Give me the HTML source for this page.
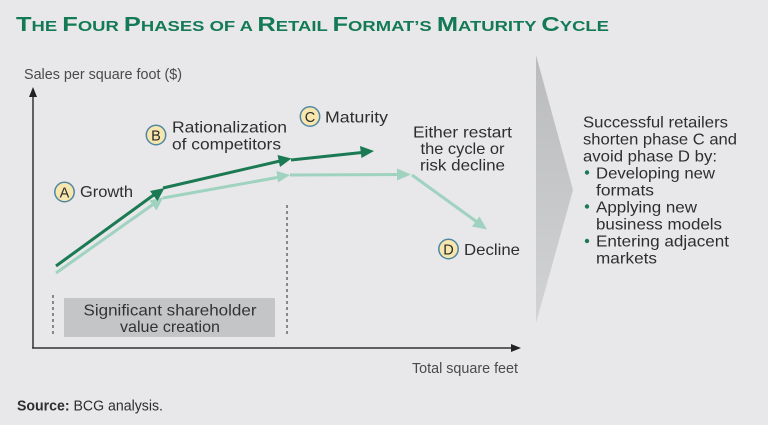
<!DOCTYPE html>
<html><head><meta charset="utf-8"><style>
html,body{margin:0;padding:0;background:#e8e8ea;}
svg{display:block;}
text{font-family:"Liberation Sans",sans-serif;}
</style></head><body>
<svg width="768" height="425" viewBox="0 0 768 425" xmlns="http://www.w3.org/2000/svg">
<defs>
<linearGradient id="chev" x1="0" y1="0" x2="0" y2="1">
<stop offset="0" stop-color="#babbbd"/><stop offset="1" stop-color="#d2d3d5"/>
</linearGradient>
</defs>
<rect width="768" height="425" fill="#e8e8ea"/>
<!-- title -->
<text x="16" y="31" fill="#137a55" font-weight="bold" textLength="593" lengthAdjust="spacingAndGlyphs"><tspan font-size="20">T</tspan><tspan font-size="14.5">HE </tspan><tspan font-size="20">F</tspan><tspan font-size="14.5">OUR </tspan><tspan font-size="20">P</tspan><tspan font-size="14.5">HASES OF A </tspan><tspan font-size="20">R</tspan><tspan font-size="14.5">ETAIL </tspan><tspan font-size="20">F</tspan><tspan font-size="14.5">ORMAT’S </tspan><tspan font-size="20">M</tspan><tspan font-size="14.5">ATURITY </tspan><tspan font-size="20">C</tspan><tspan font-size="14.5">YCLE</tspan></text>
<!-- axes -->
<text x="24" y="79" font-size="14.5" fill="#4a4a4a" textLength="158" lengthAdjust="spacingAndGlyphs">Sales per square foot ($)</text>
<line x1="33" y1="348" x2="33" y2="95" stroke="#333" stroke-width="1.5"/>
<polygon points="33,87 29,97 37,97" fill="#222"/>
<line x1="32" y1="348" x2="512" y2="348" stroke="#333" stroke-width="1.5"/>
<polygon points="521,348 511,344 511,352" fill="#222"/>
<text x="412" y="373" font-size="14.5" fill="#4a4a4a" textLength="106" lengthAdjust="spacingAndGlyphs">Total square feet</text>
<!-- dashed lines -->
<line x1="53" y1="295" x2="53" y2="336" stroke="#555" stroke-width="1.3" stroke-dasharray="3,3"/>
<line x1="287" y1="205" x2="287" y2="336" stroke="#555" stroke-width="1.3" stroke-dasharray="3,3"/>
<!-- gray box -->
<rect x="64" y="298" width="211" height="39" fill="#c4c5c7"/>
<text x="170" y="315.5" font-size="16" fill="#333" text-anchor="middle" textLength="173" lengthAdjust="spacingAndGlyphs">Significant shareholder</text>
<text x="170" y="332" font-size="16" fill="#333" text-anchor="middle" textLength="100" lengthAdjust="spacingAndGlyphs">value creation</text>
<!-- light green line -->
<g stroke="#9fd2bf" stroke-width="3" fill="none">
<line x1="56" y1="273" x2="155" y2="203"/>
<line x1="163" y1="198" x2="280" y2="177"/>
<line x1="290" y1="175" x2="399" y2="174.5"/>
<line x1="412" y1="175" x2="477" y2="222"/>
</g>
<g fill="#9fd2bf">
<polygon points="163.5,197.3 149.5,200.5 156.5,210.5"/>
<polygon points="290,175 276.5,171 278,182.5"/>
<polygon points="411,174.5 397,168.5 397,180.5"/>
<polygon points="487,229.5 479.5,216.5 472,226.5"/>
</g>
<!-- dark green line -->
<g stroke="#1b7a53" stroke-width="3" fill="none">
<line x1="56" y1="266" x2="155" y2="194"/>
<line x1="163" y1="188" x2="280" y2="161"/>
<line x1="291" y1="160" x2="362" y2="152.5"/>
</g>
<g fill="#1b7a53">
<polygon points="164.5,188 150,191 157.5,201"/>
<polygon points="291.5,158.5 277.5,155 280,167"/>
<polygon points="374,151 360,146 361.5,158"/>
</g>
<!-- circles & labels -->
<g stroke="#4f87a3" stroke-width="1.5" fill="#f7e6ad">
<circle cx="64.5" cy="192" r="9.7"/>
<circle cx="156" cy="135" r="9.7"/>
<circle cx="310" cy="116.5" r="9.7"/>
<circle cx="448.5" cy="249" r="9.7"/>
</g>
<g font-size="14.5" fill="#2a2a2a" text-anchor="middle">
<text x="64.5" y="197.3">A</text>
<text x="156" y="140.3">B</text>
<text x="310" y="121.8">C</text>
<text x="448.5" y="254.3">D</text>
</g>
<g font-size="16" fill="#2e2e2e">
<text x="80" y="197" textLength="53" lengthAdjust="spacingAndGlyphs">Growth</text>
<text x="172" y="132.5" textLength="115" lengthAdjust="spacingAndGlyphs">Rationalization</text>
<text x="172" y="149.3" textLength="109" lengthAdjust="spacingAndGlyphs">of competitors</text>
<text x="325" y="122.3" textLength="63" lengthAdjust="spacingAndGlyphs">Maturity</text>
<text x="464" y="255" textLength="56" lengthAdjust="spacingAndGlyphs">Decline</text>
</g>
<g font-size="16" fill="#2e2e2e" text-anchor="middle">
<text x="462.5" y="137.3" textLength="99" lengthAdjust="spacingAndGlyphs">Either restart</text>
<text x="462.5" y="154" textLength="84" lengthAdjust="spacingAndGlyphs">the cycle or</text>
<text x="462.5" y="170.7" textLength="85" lengthAdjust="spacingAndGlyphs">risk decline</text>
</g>
<!-- chevron -->
<polygon points="536,55 573,190 536,323" fill="url(#chev)"/>
<!-- right text -->
<g font-size="16" fill="#2e2e2e">
<text x="583" y="127.3" textLength="145" lengthAdjust="spacingAndGlyphs">Successful retailers</text>
<text x="583" y="144.4" textLength="154" lengthAdjust="spacingAndGlyphs">shorten phase C and</text>
<text x="583" y="161.5" textLength="134" lengthAdjust="spacingAndGlyphs">avoid phase D by:</text>
<text x="596" y="178.3" textLength="119" lengthAdjust="spacingAndGlyphs">Developing new</text>
<text x="596" y="195.3" textLength="58" lengthAdjust="spacingAndGlyphs">formats</text>
<text x="596" y="212.3" textLength="101" lengthAdjust="spacingAndGlyphs">Applying new</text>
<text x="596" y="229.4" textLength="126" lengthAdjust="spacingAndGlyphs">business models</text>
<text x="596" y="246.6" textLength="133" lengthAdjust="spacingAndGlyphs">Entering adjacent</text>
<text x="596" y="263.5" textLength="61" lengthAdjust="spacingAndGlyphs">markets</text>
</g>
<g fill="#1b7a53">
<circle cx="587" cy="172.5" r="2.2"/>
<circle cx="587" cy="206.5" r="2.2"/>
<circle cx="587" cy="241" r="2.2"/>
</g>
<!-- source -->
<text x="17" y="410.5" font-size="14.5" fill="#2e2e2e" textLength="146" lengthAdjust="spacingAndGlyphs"><tspan font-weight="bold">Source:</tspan> BCG analysis.</text>
</svg>
</body></html>
